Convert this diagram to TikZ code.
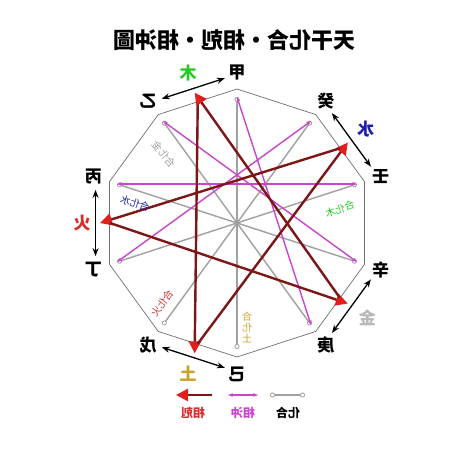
\documentclass[tikz,border=0pt]{standalone}
\usepackage{fontspec}
\usepackage{graphicx}
\newfontfamily\cjk{Noto Sans CJK TC}
\usetikzlibrary{calc}
\usetikzlibrary{arrows.meta}
\newcommand{\mir}[1]{\reflectbox{#1}}
\definecolor{kered}{RGB}{125,22,22}
\definecolor{kehead}{RGB}{225,30,30}
\definecolor{chongmag}{RGB}{200,70,205}
\definecolor{hegray}{RGB}{160,160,160}
\definecolor{rimgray}{RGB}{110,110,110}
\definecolor{mugreen}{RGB}{40,200,40}
\definecolor{shuiblue}{RGB}{30,30,170}
\definecolor{huored}{RGB}{215,45,45}
\definecolor{jingray}{RGB}{185,185,185}
\definecolor{tugold}{RGB}{205,160,40}

\begin{document}
\begin{tikzpicture}[x = 1pt, y = 1pt,
heading/.style = {font = \cjk\bfseries\fontsize{22}{22}\selectfont, inner sep = 0},
stem/.style = {font = \cjk\bfseries\fontsize{17}{17}\selectfont, inner sep = 0},
elem/.style = {font = \cjk\bfseries\fontsize{17}{17}\selectfont, inner sep = 0},
note/.style = {font = \cjk\fontsize{10}{11}\selectfont, inner sep = 0},
key/.style = {font = \cjk\bfseries\fontsize{12}{12}\selectfont, inner sep = 0},
rim/.style = {draw = rimgray, line width = 0.7pt},
ke/.style = {draw = kered, line width = 2.4pt, -{Triangle[length = 12pt, width = 12pt, color = kehead, fill = kehead]}},
chong/.style = {draw = chongmag, line width = 1.4pt, {Stealth[length = 5pt]}-{Stealth[length = 5pt]}},
he/.style = {draw = hegray, line width = 1.4pt, {Circle[length = 5pt, fill = white, line width = 0.8pt]}-{Circle[length = 5pt, fill = white, line width = 0.8pt]}},
wx/.style = {draw = black, line width = 1.3pt, {Stealth[length = 8pt]}-{Stealth[length = 8pt]}},
]
\fill[white] (0,0) rectangle (474,-448);
\useasboundingbox (0,0) rectangle (474,-448);

\node[heading] (title) at (234,-40) {\mir{天干化合・相剋・相沖圖}};

\coordinate (O) at (237,-223);
\foreach \n/\a/\c in {jia/90/甲, gui/54/癸, ren/18/壬, xin/-18/辛, geng/-54/庚, ji/-90/己, wu/-126/戊, ding/-162/丁, bing/162/丙, yi/126/乙} {
  \coordinate (\n) at ($(O)+(\a:134)$);
  \coordinate (\n-in) at ($(O)+(\a:126)$);
  \node[stem] (\n-l) at ($(O)+(\a:151)$) {\mir{\c}};
}
\draw[rim] (jia) -- (gui) -- (ren) -- (xin) -- (geng) -- (ji) -- (wu) -- (ding) -- (bing) -- (yi) -- cycle;

\foreach \e/\m/\p/\q in {mu/108/yi/jia, shui/36/gui/ren, jin/-36/xin/geng, tu/-108/ji/wu, huo/180/bing/ding} {
  \coordinate (\e-c) at ($(O)+(\m:127)$);
  \coordinate (\e-t) at ($(O)+(\m:137)$);
  \coordinate (\e-a) at ($(\p)!0.1!(\q)+(\m:14)$);
  \coordinate (\e-b) at ($(\q)!0.1!(\p)+(\m:14)$);
  \path (\e-a) edge[wx] (\e-b);
}
\node[elem, text = mugreen] (mu-l) at ($(O)+(108:158)$) {\mir{木}};
\node[elem, text = shuiblue] (shui-l) at ($(O)+(36:159)$) {\mir{水}};
\node[elem, text = jingray] (jin-l) at ($(O)+(-36:161)$) {\mir{金}};
\node[elem, text = tugold] (tu-l) at ($(O)+(-108:158)$) {\mir{土}};
\node[elem, text = huored] (huo-l) at ($(O)+(180:155)$) {\mir{火}};

\foreach \p/\q in {jia/ji, yi/geng, bing/xin, ding/ren, wu/gui}
  \path (\p-in) edge[he] (\q-in);
\foreach \p/\q in {jia/geng, yi/xin, bing/ren, ding/gui}
  \path (\p-in) edge[chong] (\q-in);
\foreach \p/\q in {mu/tu, tu/shui, shui/huo, huo/jin, jin/mu}
  \path (\p-c) edge[ke] (\q-t);

\node[note, text = hegray, rotate = -52] (yg) at (164,-154) {\mir{合化金}};
\node[note, text = shuiblue, rotate = -18] (bx) at (135,-203) {\mir{合化水}};
\node[note, text = mugreen, rotate = 18] (dr) at (340,-209) {\mir{合化木}};
\node[note, text = huored, rotate = 54] (wg) at (162,-303) {\mir{合化火}};
\node[note, text = tugold, align = center] (jj) at (247,-327) {\mir{合}\\\mir{化}\\\mir{土}};

\coordinate (k1) at (212,-395);
\coordinate (k2) at (176,-395);
\coordinate (c1) at (228,-395);
\coordinate (c2) at (258,-395);
\coordinate (h1) at (270,-395);
\coordinate (h2) at (305,-395);
\path (k1) edge[ke] (k2);
\path (c1) edge[chong] (c2);
\path (h1) edge[he] (h2);
\node[key, text = huored] (ke-l) at (193,-413) {\mir{相剋}};
\node[key, text = chongmag] (chong-l) at (243,-413) {\mir{相沖}};
\node[key] (he-l) at (288,-413) {\mir{化合}};
\end{tikzpicture}
\end{document}
